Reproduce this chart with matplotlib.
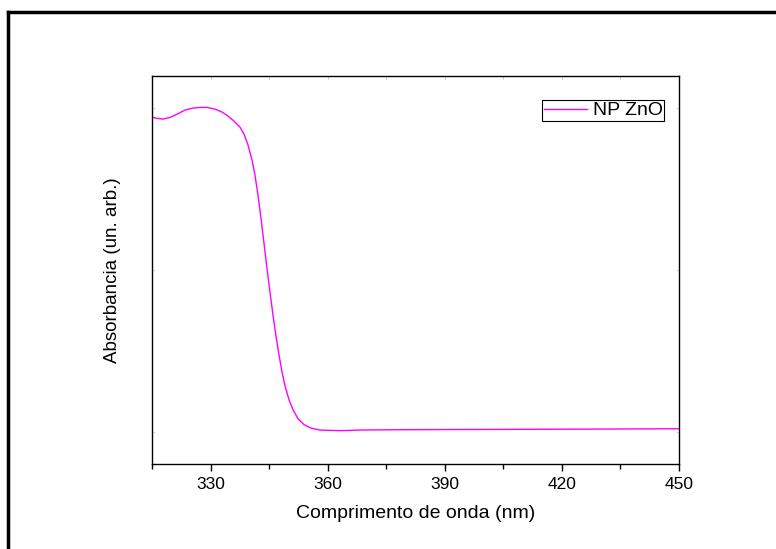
import matplotlib
matplotlib.use("Agg")
import matplotlib.pyplot as plt
from matplotlib.lines import Line2D
from matplotlib.ticker import MultipleLocator, NullFormatter

plt.rcParams['font.family'] = ['Liberation Sans', 'DejaVu Sans']

wavelength = [315.0, 316.3, 317.8, 319.6, 321.4, 323.5, 325.5, 327.3, 329.1, 331.1,
              332.9, 334.5, 336.0, 337.55, 338.57, 339.6, 340.62, 341.39, 342.16, 342.93,
              343.7, 344.46, 345.23, 346.0, 346.77, 347.54, 348.31, 349.08, 350.1, 351.13,
              352.41, 353.94, 355.74, 358.04, 360.6, 363.2, 368.3, 378.5, 404.2, 429.8, 450.0]
absorbance = [0.972, 0.968, 0.966, 0.971, 0.981, 0.994, 1.000, 1.002, 1.002, 0.997,
              0.988, 0.975, 0.960, 0.941, 0.920, 0.886, 0.840, 0.793, 0.731, 0.660,
              0.583, 0.506, 0.432, 0.361, 0.296, 0.238, 0.185, 0.142, 0.099, 0.068,
              0.040, 0.022, 0.011, 0.005, 0.004, 0.003, 0.005, 0.006, 0.007, 0.008, 0.009]
series_label = "NP ZnO"
x_ticks = [330, 360, 390, 420, 450]
xlabel = "Comprimento de onda (nm)"
ylabel = "Absorbancia (un. arb.)"

fig = plt.figure(figsize=(7.76, 5.49), dpi=100)
ax = fig.add_axes([0.1959, 0.1548, 0.6787, 0.7073])

ax.plot(wavelength, absorbance, color="#FF00FF", lw=1.0, label=series_label)

ax.set_xlim(315, 450)
ax.set_ylim(-0.1, 1.1)
ax.set_xticks(x_ticks)
ax.xaxis.set_minor_locator(MultipleLocator(15))
ax.set_yticks([0.0, 0.5, 1.0])
ax.yaxis.set_major_formatter(NullFormatter())

ax.tick_params(axis='x', which='major', direction='out', length=5, width=1.0,
               labelsize=12.5, pad=4, top=False)
ax.tick_params(axis='x', which='minor', direction='out', length=3.5, width=1.0, top=False)
ax.tick_params(axis='y', which='major', direction='in', length=2, width=0.6,
               color='#cccccc', left=True, right=True)
for s in ax.spines.values():
    s.set_linewidth(1.0)
    s.set_color('black')

# light inward ticks along the top edge
sec = ax.secondary_xaxis('top')
sec.set_xticks(x_ticks)
sec.xaxis.set_minor_locator(MultipleLocator(15))
sec.tick_params(which='both', direction='in', length=2, width=0.6, color='#bbbbbb',
                labeltop=False)
sec.spines['top'].set_visible(False)

ax.set_xlabel(xlabel, fontsize=14, labelpad=10)
ax.set_ylabel(ylabel, fontsize=13.5, labelpad=19)

leg = ax.legend(loc='upper right', bbox_to_anchor=(0.973, 0.938), fontsize=14,
                frameon=True, fancybox=False, edgecolor='black', framealpha=1,
                handlelength=2.2, handletextpad=0.3, borderpad=0.1, borderaxespad=0.0)
leg.get_frame().set_linewidth(0.8)

# outer frame (top and left thick lines)
fig.add_artist(Line2D([0.0105, 1.0], [0.979, 0.979], transform=fig.transFigure,
                      color='black', lw=2.5, solid_capstyle='projecting'))
fig.add_artist(Line2D([0.0105, 0.0105], [0.979, 0.0], transform=fig.transFigure,
                      color='black', lw=2.5, solid_capstyle='projecting'))

fig.savefig("out.png", dpi=100)
